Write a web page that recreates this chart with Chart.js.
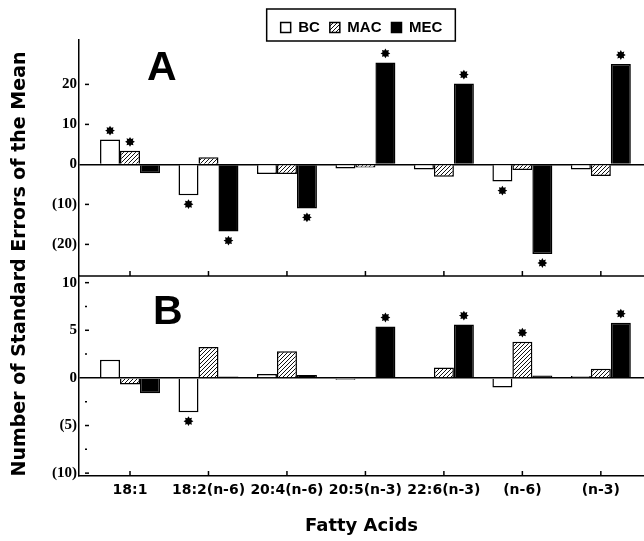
<!DOCTYPE html>
<html>
<head>
<meta charset="utf-8">
<script src="https://cdn.jsdelivr.net/npm/chart.js@4.4.1/dist/chart.umd.min.js"></script>
<style>
  html, body { margin: 0; padding: 0; background: #fff; }
</style>
</head>
<body>
<canvas id="chart" width="644" height="541"></canvas>
<script>
// fatty acids on the x axis
const categories = ['18:1', '18:2(n-6)', '20:4(n-6)', '20:5(n-3)', '22:6(n-3)', '(n-6)', '(n-3)'];

// panel A
const bcA  = [6.2, -7.7, -2.4, -1.0, -1.3, -4.3, -1.3];
const macA = [3.4, 1.8, -2.4, -0.8, -3.1, -1.4, -2.9];
const mecA = [-2.2, -16.8, -11.0, 25.5, 20.2, -22.4, 25.1];

// panel B
const bcB  = [1.9, -3.6, 0.4, -0.2, 0.05, -1.0, 0.2];
const macB = [-0.7, 3.25, 2.8, 0.05, 1.1, 3.8, 0.95];
const mecB = [-1.6, 0.15, 0.3, 5.4, 5.6, 0.25, 5.8];

// asterisk = significant
const sigBcA  = [1, 1, 0, 0, 0, 1, 0];
const sigMacA = [1, 0, 0, 0, 0, 0, 0];
const sigMecA = [0, 1, 1, 1, 1, 1, 1];
const sigBcB  = [0, 1, 0, 0, 0, 0, 0];
const sigMacB = [0, 0, 0, 0, 0, 1, 0];
const sigMecB = [0, 0, 0, 1, 1, 0, 1];

// y tick values
const ticksA = [-20, -10, 0, 10, 20];
const ticksB = [-10, -7.5, -5, -2.5, 0, 2.5, 5, 7.5, 10];

// hatched fill for MAC
function hatch() {
  const c = document.createElement('canvas');
  c.width = 4; c.height = 4;
  const g = c.getContext('2d');
  g.fillStyle = '#fff';
  g.fillRect(0, 0, 4, 4);
  g.strokeStyle = '#111';
  g.lineWidth = 1;
  g.beginPath();
  g.moveTo(-1, 5); g.lineTo(5, -1);
  g.moveTo(-1, 1); g.lineTo(1, -1);
  g.moveTo(3, 5); g.lineTo(5, 3);
  g.stroke();
  return g.createPattern(c, 'repeat');
}
const hatched = hatch();

function bars(label, values, fill, axis, sig) {
  return {
    label: label,
    stack: label,
    yAxisID: axis,
    data: values.map((v, i) => ({ x: i, y: v })),
    backgroundColor: fill,
    borderColor: '#000',
    borderWidth: 1.5,
    categoryPercentage: 0.764,
    barPercentage: 1,
    sig: sig
  };
}

// negative numbers shown in brackets
function fmt(v) {
  return v < 0 ? '(' + (-v) + ')' : String(v);
}

function star(ctx, x, y) {
  ctx.beginPath();
  for (let k = 0; k < 16; k++) {
    const r = k % 2 ? 3.1 : 4.9;
    const a = k * Math.PI / 8;
    ctx.lineTo(x + r * Math.cos(a), y + r * Math.sin(a));
  }
  ctx.closePath();
  ctx.fill();
}

function line(ctx, x1, y1, x2, y2) {
  ctx.beginPath();
  ctx.moveTo(x1, y1);
  ctx.lineTo(x2, y2);
  ctx.stroke();
}

const extras = {
  id: 'extras',
  afterDatasetsDraw(chart) {
    const ctx = chart.ctx;
    ctx.save();
    ctx.fillStyle = '#000';
    chart.data.datasets.forEach((ds, di) => {
      chart.getDatasetMeta(di).data.forEach((bar, i) => {
        if (!ds.sig[i]) return;
        const up = ds.data[i].y >= 0;
        star(ctx, bar.x, up ? bar.y - 9 : bar.y + 9);
      });
    });
    ctx.restore();
  },
  afterDraw(chart) {
    const ctx = chart.ctx;
    const ca = chart.chartArea;
    const x = chart.scales.x, yA = chart.scales.yA, yB = chart.scales.yB;
    ctx.save();
    ctx.strokeStyle = '#000';
    ctx.fillStyle = '#000';

    // box round the legend
    const hb = chart.legend.legendHitBoxes;
    const first = hb[0], last = hb[hb.length - 1];
    ctx.lineWidth = 1.5;
    ctx.strokeRect(first.left - 14, first.top - 11, last.left + last.width - first.left + 27, first.height + 17);

    // line between the panels, ticks pointing up
    line(ctx, ca.left, yA.bottom, ca.right, yA.bottom);
    categories.forEach((c, i) => {
      const px = x.getPixelForValue(i);
      line(ctx, px, yA.bottom, px, yA.bottom - 5);
      line(ctx, px, yB.bottom, px, yB.bottom - 5);
    });

    // little dashes inside the y axes
    [yA, yB].forEach(s => {
      s.ticks.forEach(t => {
        if (t.value === 0) return;
        const py = s.getPixelForValue(t.value);
        const len = t.value % 5 === 0 ? 4 : 2;
        line(ctx, ca.left + 6, py, ca.left + 6 + len, py);
      });
    });

    // panel letters
    ctx.font = 'bold 41px "Liberation Sans", Arial, sans-serif';
    ctx.textBaseline = 'alphabetic';
    ctx.textAlign = 'left';
    ctx.fillText('A', ca.left + 68, yA.top + 40);
    ctx.fillText('B', ca.left + 74, yB.top + 48);

    // y title spans both panels
    ctx.translate(20, (yA.top + yB.bottom) / 2 + 6);
    ctx.rotate(-Math.PI / 2);
    ctx.font = 'bold 19px "DejaVu Sans", sans-serif';
    ctx.textAlign = 'center';
    ctx.textBaseline = 'middle';
    ctx.fillText('Number of Standard Errors of the Mean', 0, 0);
    ctx.restore();
  }
};

const yTickFont = { family: '"Liberation Serif", "Times New Roman", serif', size: 15, weight: 'bold' };

new Chart(document.getElementById('chart'), {
  type: 'bar',
  data: {
    datasets: [
      bars('BC', bcA, '#fff', 'yA', sigBcA),
      bars('MAC', macA, hatched, 'yA', sigMacA),
      bars('MEC', mecA, '#000', 'yA', sigMecA),
      bars('BC', bcB, '#fff', 'yB', sigBcB),
      bars('MAC', macB, hatched, 'yB', sigMacB),
      bars('MEC', mecB, '#000', 'yB', sigMecB)
    ]
  },
  options: {
    responsive: false,
    animation: false,
    events: [],
    layout: { padding: { top: 10, left: 0, right: 0, bottom: 0 } },
    plugins: {
      tooltip: { enabled: false },
      legend: {
        position: 'top',
        fullSize: false,
        maxHeight: 30,
        labels: {
          boxWidth: 10,
          boxHeight: 10,
          padding: 10,
          color: '#000',
          font: { family: '"Liberation Sans", Arial, sans-serif', size: 15, weight: 'bold' },
          filter: item => item.datasetIndex < 3
        }
      }
    },
    scales: {
      x: {
        type: 'linear',
        offset: false,
        min: -0.65,
        max: 6.55,
        afterBuildTicks: s => { s.ticks = categories.map((c, i) => ({ value: i })); },
        afterFit: s => { s.height = 65; },
        grid: { display: false, drawTicks: false },
        border: { color: '#000', width: 1.5 },
        ticks: {
          padding: 6,
          color: '#000',
          autoSkip: false,
          maxRotation: 0,
          font: { family: '"DejaVu Sans", sans-serif', size: 14, weight: 'bold' },
          callback: v => categories[v]
        },
        title: {
          display: true,
          text: 'Fatty Acids',
          color: '#000',
          font: { family: '"DejaVu Sans", sans-serif', size: 18, weight: 'bold' },
          padding: { top: 0, bottom: 4 }
        }
      },
      yB: {
        type: 'linear',
        position: 'left',
        stack: 'panels',
        stackWeight: 200,
        stacked: false,
        min: -10.3,
        max: 10.7,
        afterBuildTicks: s => { s.ticks = ticksB.map(v => ({ value: v })); },
        afterFit: s => { s.width = 79; },
        grid: { drawTicks: false, lineWidth: 1.5, color: c => (c.tick && c.tick.value === 0 ? '#000' : 'rgba(0,0,0,0)') },
        border: { color: '#000', width: 1.5 },
        ticks: { padding: 2, color: '#000', autoSkip: false, font: yTickFont, callback: v => (v % 5 === 0 ? fmt(v) : '') }
      },
      yA: {
        type: 'linear',
        position: 'left',
        stack: 'panels',
        stackWeight: 236,
        stacked: false,
        min: -27.9,
        max: 31.1,
        afterBuildTicks: s => { s.ticks = ticksA.map(v => ({ value: v })); },
        afterFit: s => { s.width = 79; },
        grid: { drawTicks: false, lineWidth: 1.5, color: c => (c.tick && c.tick.value === 0 ? '#000' : 'rgba(0,0,0,0)') },
        border: { color: '#000', width: 1.5 },
        ticks: { padding: 2, color: '#000', autoSkip: false, font: yTickFont, callback: v => fmt(v) }
      }
    }
  },
  plugins: [extras]
});
</script>
</body>
</html>
